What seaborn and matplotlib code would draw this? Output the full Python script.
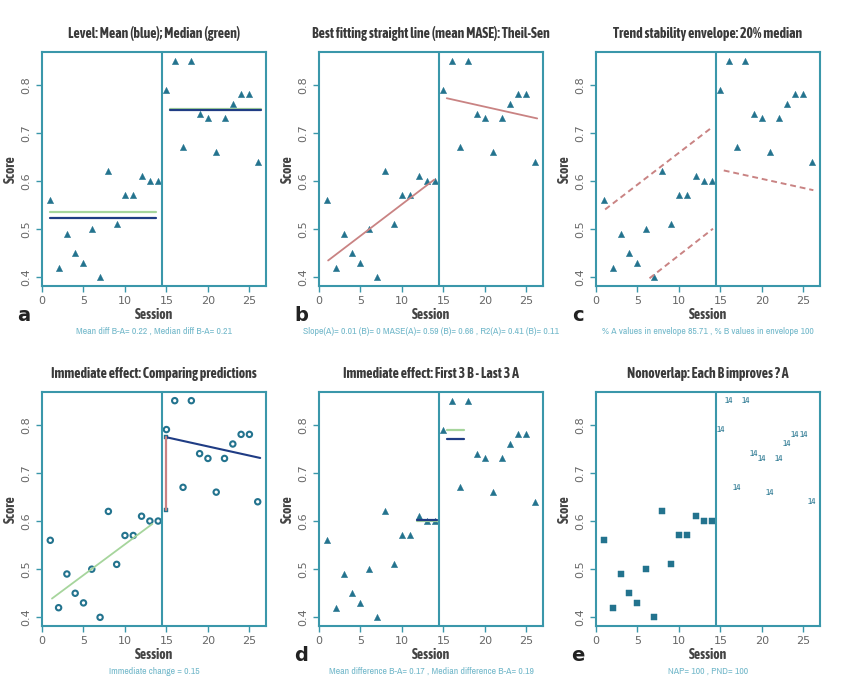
import matplotlib
matplotlib.use('Agg')
import matplotlib.pyplot as plt
from matplotlib import font_manager
import seaborn as sns
import pandas as pd

sns.set_style('white')


def is_bold(f):
    w = f.weight
    if isinstance(w, str):
        w = font_manager.weight_dict.get(w, 400)
    return w >= 600


# a narrow bold face for titles and labels, if one is installed
fonts = font_manager.fontManager.ttflist
narrow_bold = sorted({f.name for f in fonts
                      if ('Narrow' in f.name or 'Condensed' in f.name) and is_bold(f)})
narrow_any = sorted({f.name for f in fonts if 'Narrow' in f.name or 'Condensed' in f.name})
if narrow_bold:
    head_font = [narrow_bold[0], 'DejaVu Sans']
    tsize = 10
else:
    head_font = ['DejaVu Sans']
    tsize = 7.2
if narrow_any:
    cap_font = [narrow_any[0], 'DejaVu Sans']
    csize = 7
else:
    cap_font = ['DejaVu Sans']
    csize = 5.4
plt.rcParams['font.family'] = ['DejaVu Sans']

# data
session_a = [1, 2, 3, 4, 5, 6, 7, 8, 9, 10, 11, 12, 13, 14]
score_a = [0.56, 0.42, 0.49, 0.45, 0.43, 0.50, 0.40, 0.62, 0.51, 0.57, 0.57, 0.61, 0.60, 0.60]
session_b = [15, 16, 17, 18, 19, 20, 21, 22, 23, 24, 25, 26]
score_b = [0.79, 0.85, 0.67, 0.85, 0.74, 0.73, 0.66, 0.73, 0.76, 0.78, 0.78, 0.64]

# level lines (panel a)
level_x_a = [1, 13.8]
level_x_b = [15.4, 26.4]
mean_a, median_a = 0.523, 0.535
mean_b, median_b = 0.748, 0.75

# Theil-Sen lines (panel b)
ts_x_a = [1.1, 13.9]
ts_y_a = [0.435, 0.603]
ts_x_b = [15.4, 26.3]
ts_y_b = [0.772, 0.730]

# envelope (panel c)
env_up_x_a = [1.1, 14.1]
env_up_y_a = [0.541, 0.713]
env_lo_x_a = [6.45, 14.1]
env_lo_y_a = [0.398, 0.501]
env_lo_x_b = [15.4, 26.2]
env_lo_y_b = [0.622, 0.581]

# immediate effect predictions (bottom left)
pred_x_a = [1.2, 13.3]
pred_y_a = [0.439, 0.594]
pred_x_b = [15.0, 26.3]
pred_y_b = [0.774, 0.731]
pred_at_15 = [0.622, 0.774]

# first 3 B / last 3 A
last3_x = [11.8, 14.2]
last3_mean, last3_median = 0.603, 0.60
first3_x = [15.4, 17.5]
first3_mean, first3_median = 0.77, 0.79

titles = ['Level: Mean (blue); Median (green)',
          'Best fitting straight line (mean MASE): Theil-Sen',
          'Trend stability envelope: 20% median',
          'Immediate effect: Comparing predictions',
          'Immediate effect: First 3 B - Last 3 A',
          'Nonoverlap: Each B improves ? A']
captions = ['Mean diff B-A= 0.22 , Median diff B-A= 0.21',
            'Slope(A)= 0.01 (B)= 0 MASE(A)= 0.59 (B)= 0.66 , R2(A)= 0.41 (B)= 0.11',
            '% A values in envelope 85.71 , % B values in envelope 100',
            'Immediate change = 0.15',
            'Mean difference B-A= 0.17 , Median difference B-A= 0.19',
            'NAP= 100 , PND= 100']
letters = ['a', 'b', 'c', '', 'd', 'e']

frame = '#3a97aa'
mark = '#23738e'
navy = '#1f3c84'
green = '#a6d59c'
red = '#c98383'
capc = '#72b8ca'
txt = '#444444'

df_a = pd.DataFrame({'Session': session_a, 'Score': score_a})
df_b = pd.DataFrame({'Session': session_b, 'Score': score_b})
df_all = pd.concat([df_a, df_b])

fig = plt.figure(figsize=(8.5, 6.87), dpi=100)
W, H = 850, 687
lefts = [42, 319, 596]
tops = [52, 392]
axes = []
for r in range(2):
    for c in range(3):
        ax = fig.add_axes([lefts[c] / W, 1 - (tops[r] + 234) / H, 224 / W, 234 / H])
        axes.append(ax)


def line(ax, x, y, color, lw=1.4, ls='-'):
    sns.lineplot(x=x, y=y, ax=ax, color=color, lw=lw, linestyle=ls, legend=False,
                 estimator=None, sort=False)


for i, ax in enumerate(axes):
    if i == 3:
        sns.scatterplot(data=df_all, x='Session', y='Score', ax=ax, marker='o', s=15,
                        facecolor='none', edgecolor=mark, linewidth=1.5)
    elif i == 5:
        sns.scatterplot(data=df_a, x='Session', y='Score', ax=ax, marker='s', s=18,
                        color=mark, edgecolor=mark)
        for sx, sy in zip(session_b, score_b):
            ax.text(sx, sy, '14', color=mark, fontsize=6.5, ha='center', va='center',
                    family=cap_font)
    else:
        sns.scatterplot(data=df_all, x='Session', y='Score', ax=ax, marker='^', s=20,
                        color=mark, edgecolor=mark)

    ax.axvline(14.5, color=frame, lw=1.5)
    ax.set_xlim(0, 27)
    ax.set_ylim(0.382, 0.868)
    ax.set_xticks([0, 5, 10, 15, 20, 25])
    ax.set_yticks([0.4, 0.5, 0.6, 0.7, 0.8])
    ax.set_yticklabels(['0.4', '0.5', '0.6', '0.7', '0.8'], rotation=90, va='center')
    ax.tick_params(axis='both', colors=frame, labelcolor='#666666', labelsize=8,
                   length=4, width=1, direction='out', bottom=True, left=True)
    for sp in ax.spines.values():
        sp.set_color(frame)
        sp.set_linewidth(1.5)
    ax.set_xlabel('Session', fontsize=10, fontweight='bold', color=txt, labelpad=1,
                  family=head_font)
    ax.set_ylabel('Score', fontsize=10, fontweight='bold', color=txt, labelpad=3,
                  family=head_font)
    ax.set_title(titles[i], fontsize=tsize, fontweight='bold', color='#3a3a3a', pad=10,
                 family=head_font)
    ax.text(0.5, -0.175, captions[i], transform=ax.transAxes, ha='center', va='top',
            fontsize=csize, color=capc, family=cap_font)
    if letters[i]:
        ax.text(-0.08, -0.085, letters[i], transform=ax.transAxes, ha='center', va='top',
                fontsize=14, fontweight='bold', color='#222222', family='DejaVu Sans')

# a: level
line(axes[0], level_x_a, [median_a, median_a], green, 1.6)
line(axes[0], level_x_a, [mean_a, mean_a], navy, 1.6)
line(axes[0], level_x_b, [median_b, median_b], green, 1.6)
line(axes[0], level_x_b, [mean_b, mean_b], navy, 1.6)

# b: Theil-Sen
line(axes[1], ts_x_a, ts_y_a, red, 1.3)
line(axes[1], ts_x_b, ts_y_b, red, 1.3)

# c: envelope
for ex, ey in [(env_up_x_a, env_up_y_a), (env_lo_x_a, env_lo_y_a), (env_lo_x_b, env_lo_y_b)]:
    line(axes[2], ex, ey, red, 1.4, (0, (3, 2)))

# bottom left: predictions
line(axes[3], pred_x_a, pred_y_a, green, 1.3)
line(axes[3], pred_x_b, pred_y_b, navy, 1.5)
line(axes[3], [15, 15], pred_at_15, red, 1.6)
sns.scatterplot(x=[15, 15], y=pred_at_15, ax=axes[3], marker='s', s=12, color=mark,
                edgecolor=mark, legend=False)

# d: first 3 B - last 3 A
line(axes[4], last3_x, [last3_median, last3_median], green, 1.6)
line(axes[4], last3_x, [last3_mean, last3_mean], navy, 1.6)
line(axes[4], first3_x, [first3_median, first3_median], green, 1.6)
line(axes[4], first3_x, [first3_mean, first3_mean], navy, 1.6)

fig.savefig('out.png', dpi=100)
